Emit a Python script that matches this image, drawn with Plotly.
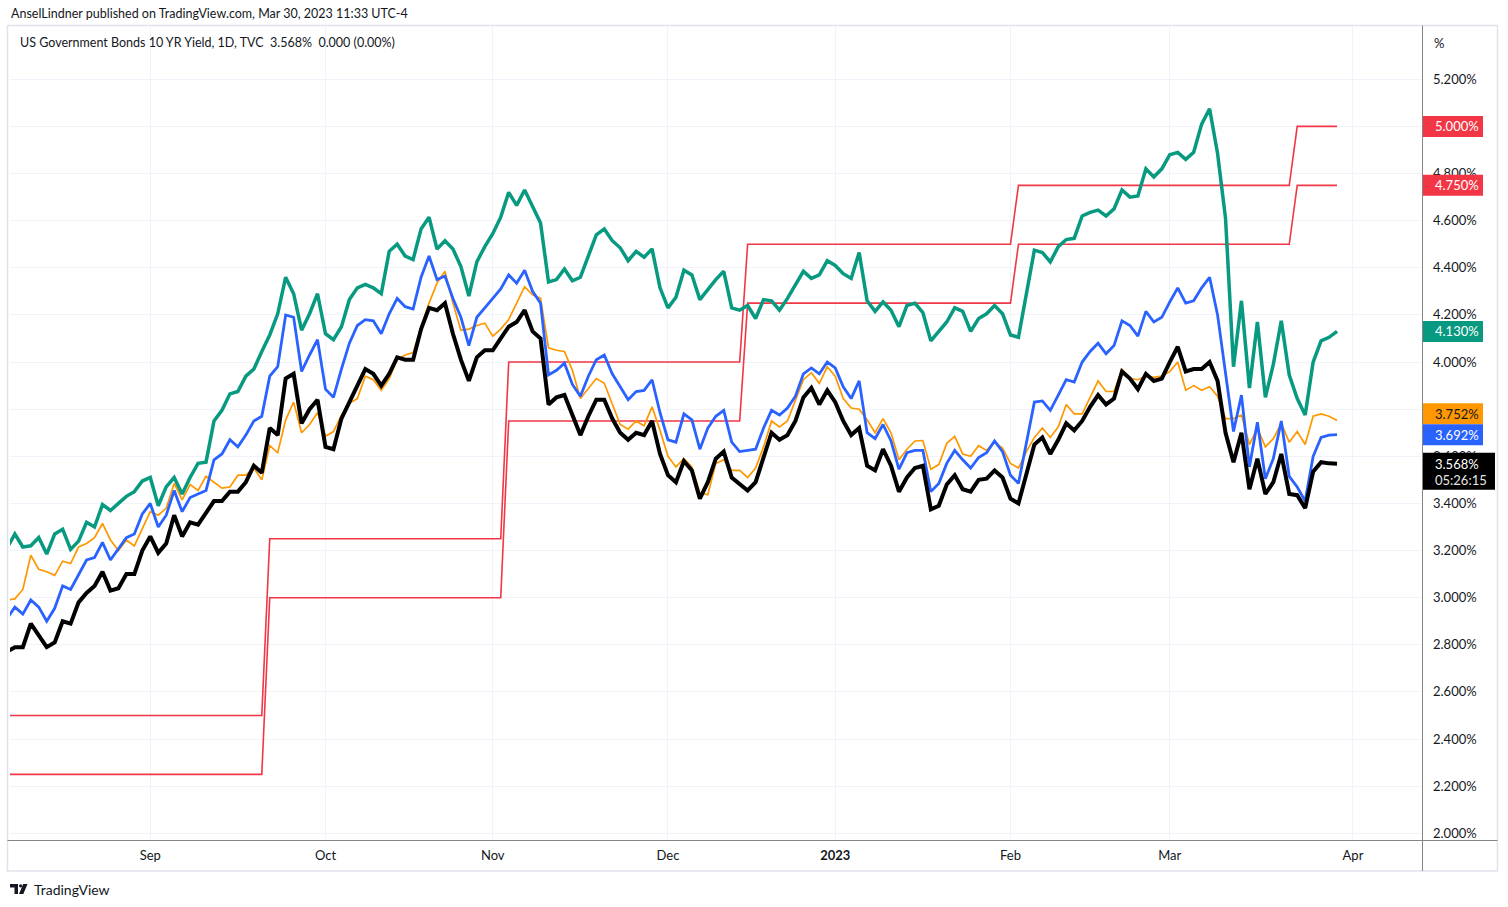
import pandas as pd
import plotly.graph_objects as go

# ---------------- data ----------------
# trading days shown (weekdays, Dec 26 2022 has no bar)
days = pd.bdate_range("2022-08-08", "2023-03-30")
days = days[days != pd.Timestamp("2022-12-26")]

# US 10Y (black)
us10y_aug = [2.77, 2.79, 2.79, 2.89, 2.84, 2.79, 2.81, 2.90, 2.89, 2.98, 3.02, 3.05, 3.11, 3.03, 3.04, 3.10, 3.10, 3.20]
us10y_sep = [3.26, 3.19, 3.23, 3.35, 3.26, 3.32, 3.31, 3.36, 3.41, 3.41, 3.45, 3.45, 3.49, 3.56, 3.53, 3.72, 3.69, 3.93, 3.95, 3.74, 3.80, 3.84]
us10y_oct = [3.64, 3.63, 3.76, 3.83, 3.90, 3.97, 3.95, 3.90, 3.95, 4.02, 4.01, 4.01, 4.14, 4.23, 4.22, 4.25, 4.12, 4.01, 3.92, 4.02, 4.05]
us10y_nov = [4.05, 4.10, 4.15, 4.17, 4.22, 4.13, 4.10, 3.82, 3.85, 3.86, 3.78, 3.69, 3.77, 3.84, 3.84, 3.76, 3.70, 3.67, 3.70, 3.69, 3.75, 3.61]
us10y_dec = [3.52, 3.49, 3.58, 3.54, 3.42, 3.49, 3.59, 3.62, 3.51, 3.48, 3.455, 3.49, 3.60, 3.70, 3.67, 3.69, 3.75, 3.85, 3.89, 3.82, 3.88]
us10y_jan = [3.83, 3.75, 3.69, 3.72, 3.56, 3.54, 3.63, 3.56, 3.45, 3.51, 3.55, 3.56, 3.375, 3.39, 3.48, 3.52, 3.46, 3.45, 3.50, 3.505, 3.54, 3.51]
us10y_feb = [3.42, 3.40, 3.53, 3.65, 3.68, 3.61, 3.67, 3.74, 3.71, 3.75, 3.81, 3.86, 3.82, 3.845, 3.96, 3.93, 3.885, 3.95, 3.92, 3.93]
us10y_mar = [4.00, 4.065, 3.96, 3.97, 3.97, 4.00, 3.92, 3.70, 3.575, 3.70, 3.46, 3.59, 3.44, 3.49, 3.61, 3.44, 3.435, 3.38, 3.535, 3.575, 3.57, 3.568]

# US 2Y (green)
us2y_aug = [3.21, 3.27, 3.215, 3.22, 3.255, 3.185, 3.27, 3.29, 3.205, 3.24, 3.32, 3.30, 3.395, 3.37, 3.40, 3.43, 3.45, 3.495]
us2y_sep = [3.51, 3.39, 3.47, 3.51, 3.44, 3.51, 3.57, 3.575, 3.75, 3.795, 3.865, 3.875, 3.94, 3.97, 4.045, 4.115, 4.205, 4.36, 4.29, 4.135, 4.205, 4.29]
us2y_oct = [4.12, 4.095, 4.15, 4.265, 4.315, 4.33, 4.315, 4.29, 4.47, 4.50, 4.45, 4.435, 4.565, 4.615, 4.48, 4.515, 4.48, 4.405, 4.28, 4.425, 4.49]
us2y_nov = [4.545, 4.615, 4.72, 4.665, 4.73, 4.66, 4.59, 4.34, 4.35, 4.395, 4.345, 4.36, 4.455, 4.54, 4.565, 4.515, 4.485, 4.43, 4.47, 4.445, 4.48, 4.315]
us2y_dec = [4.23, 4.275, 4.39, 4.37, 4.265, 4.31, 4.35, 4.385, 4.23, 4.22, 4.24, 4.185, 4.265, 4.26, 4.22, 4.27, 4.325, 4.385, 4.355, 4.37, 4.43]
us2y_jan = [4.41, 4.375, 4.355, 4.465, 4.26, 4.215, 4.255, 4.22, 4.15, 4.24, 4.25, 4.21, 4.09, 4.13, 4.17, 4.23, 4.215, 4.13, 4.185, 4.205, 4.24, 4.205]
us2y_feb = [4.115, 4.105, 4.29, 4.475, 4.465, 4.425, 4.49, 4.52, 4.525, 4.62, 4.635, 4.645, 4.62, 4.65, 4.73, 4.70, 4.705, 4.82, 4.785, 4.82]
us2y_mar = [4.88, 4.89, 4.86, 4.89, 5.01, 5.075, 4.885, 4.61, 3.98, 4.26, 3.89, 4.17, 3.85, 3.99, 4.175, 3.945, 3.845, 3.775, 4.00, 4.09, 4.105, 4.13]

# US 5Y (blue)
us5y_aug = [2.91, 2.96, 2.93, 2.99, 2.96, 2.90, 2.955, 3.05, 3.035, 3.10, 3.16, 3.17, 3.235, 3.16, 3.21, 3.255, 3.27, 3.355]
us5y_sep = [3.40, 3.30, 3.35, 3.455, 3.365, 3.425, 3.44, 3.455, 3.585, 3.61, 3.67, 3.64, 3.69, 3.75, 3.77, 3.94, 3.98, 4.20, 4.19, 3.96, 4.03, 4.095]
us5y_oct = [3.885, 3.85, 3.97, 4.08, 4.155, 4.18, 4.175, 4.12, 4.205, 4.27, 4.235, 4.225, 4.36, 4.45, 4.35, 4.365, 4.27, 4.19, 4.07, 4.19, 4.23]
us5y_nov = [4.27, 4.31, 4.37, 4.335, 4.39, 4.30, 4.25, 3.945, 3.965, 3.995, 3.905, 3.855, 3.94, 4.01, 4.03, 3.95, 3.895, 3.84, 3.875, 3.88, 3.925, 3.785]
us5y_dec = [3.67, 3.66, 3.78, 3.755, 3.63, 3.72, 3.77, 3.795, 3.66, 3.62, 3.625, 3.63, 3.72, 3.795, 3.775, 3.805, 3.855, 3.95, 3.975, 3.95, 4.00]
us5y_jan = [3.975, 3.895, 3.845, 3.92, 3.70, 3.675, 3.735, 3.665, 3.545, 3.615, 3.625, 3.625, 3.45, 3.485, 3.57, 3.625, 3.585, 3.55, 3.595, 3.615, 3.665, 3.62]
us5y_feb = [3.52, 3.485, 3.66, 3.83, 3.835, 3.795, 3.86, 3.925, 3.915, 4.00, 4.045, 4.08, 4.035, 4.07, 4.175, 4.155, 4.11, 4.215, 4.17, 4.19]
us5y_mar = [4.255, 4.315, 4.25, 4.26, 4.315, 4.36, 4.20, 3.96, 3.705, 3.86, 3.555, 3.745, 3.505, 3.59, 3.75, 3.515, 3.47, 3.41, 3.60, 3.68, 3.69, 3.692]

# US 30Y (orange)
us30y_aug = [2.99, 2.995, 3.035, 3.18, 3.12, 3.11, 3.095, 3.155, 3.145, 3.215, 3.23, 3.255, 3.315, 3.245, 3.20, 3.245, 3.22, 3.295]
us30y_sep = [3.365, 3.35, 3.38, 3.485, 3.415, 3.48, 3.455, 3.515, 3.49, 3.465, 3.47, 3.52, 3.52, 3.55, 3.50, 3.645, 3.615, 3.755, 3.83, 3.70, 3.735, 3.785]
us30y_oct = [3.685, 3.705, 3.775, 3.825, 3.845, 3.94, 3.925, 3.88, 3.93, 4.01, 4.03, 4.04, 4.15, 4.25, 4.335, 4.385, 4.25, 4.135, 4.14, 4.155, 4.165]
us30y_nov = [4.11, 4.14, 4.18, 4.25, 4.32, 4.285, 4.27, 4.06, 4.05, 4.045, 3.965, 3.845, 3.89, 3.93, 3.91, 3.825, 3.735, 3.715, 3.75, 3.73, 3.81, 3.71]
us30y_dec = [3.60, 3.555, 3.59, 3.555, 3.445, 3.437, 3.57, 3.585, 3.54, 3.54, 3.51, 3.55, 3.64, 3.75, 3.725, 3.75, 3.84, 3.925, 3.955, 3.91, 3.98]
us30y_jan = [3.94, 3.845, 3.805, 3.80, 3.755, 3.70, 3.76, 3.70, 3.585, 3.63, 3.665, 3.667, 3.545, 3.565, 3.655, 3.685, 3.61, 3.60, 3.645, 3.625, 3.66, 3.635]
us30y_feb = [3.57, 3.55, 3.62, 3.68, 3.72, 3.68, 3.725, 3.82, 3.78, 3.78, 3.85, 3.92, 3.875, 3.875, 3.97, 3.93, 3.925, 3.94, 3.935, 3.94]
us30y_mar = [3.96, 4.00, 3.88, 3.90, 3.88, 3.895, 3.855, 3.76, 3.76, 3.775, 3.65, 3.72, 3.64, 3.675, 3.74, 3.66, 3.705, 3.65, 3.77, 3.78, 3.77, 3.752]

# Fed funds target range (red), corner points of the steps
fed_dates = ["2022-08-08", "2022-09-21", "2022-09-22", "2022-11-02", "2022-11-03", "2022-12-14",
             "2022-12-15", "2023-02-01", "2023-02-02", "2023-03-22", "2023-03-23", "2023-03-30"]
fed_lower = [2.25, 2.25, 3.00, 3.00, 3.75, 3.75, 4.25, 4.25, 4.50, 4.50, 4.75, 4.75]
fed_upper = [2.50, 2.50, 3.25, 3.25, 4.00, 4.00, 4.50, 4.50, 4.75, 4.75, 5.00, 5.00]

month_ticks = ["2022-09-01", "2022-10-03", "2022-11-01", "2022-12-01", "2023-01-02", "2023-02-01", "2023-03-01", "2023-04-03"]
month_labels = ["Sep", "Oct", "Nov", "Dec", "<b>2023</b>", "Feb", "Mar", "Apr"]
price_ticks = [2.0, 2.2, 2.4, 2.6, 2.8, 3.0, 3.2, 3.4, 3.6, 3.8, 4.0, 4.2, 4.4, 4.6, 4.8, 5.0, 5.2]
price_labels = ["2.000%", "2.200%", "2.400%", "2.600%", "2.800%", "3.000%", "3.200%", "3.400%", "3.600%",
                "", "4.000%", "4.200%", "4.400%", "4.600%", "4.800%", "", "5.200%"]  # 3.8 / 5.0 sit under labels

us10y = us10y_aug + us10y_sep + us10y_oct + us10y_nov + us10y_dec + us10y_jan + us10y_feb + us10y_mar
us2y = us2y_aug + us2y_sep + us2y_oct + us2y_nov + us2y_dec + us2y_jan + us2y_feb + us2y_mar
us5y = us5y_aug + us5y_sep + us5y_oct + us5y_nov + us5y_dec + us5y_jan + us5y_feb + us5y_mar
us30y = us30y_aug + us30y_sep + us30y_oct + us30y_nov + us30y_dec + us30y_jan + us30y_feb + us30y_mar
n = len(days)
for s in (us10y, us2y, us5y, us30y):
    assert len(s) == n, (len(s), n)

# ---------------- styling ----------------
FONT = "Lato, 'Liberation Sans', Arial, sans-serif"
TXT = "#131722"
GRID = "#f0f3fa"
AXIS = "#858585"
RED, GREEN, BLUE, ORANGE, BLACK = "#f23645", "#089981", "#2962ff", "#ff9800", "#000000"

W, H = 1508, 907
L, R, T, B = 10, 86, 26, 67
PW, PH = W - L - R, H - T - B
Y0, Y1 = 1.9716, 5.4262


def px(x):  # pixel x -> paper
    return (x - L) / PW


def py(y):  # pixel y -> paper
    return (H - B - y) / PH


def vpx(v):  # value -> pixel y
    return (H - B) - (v - Y0) / (Y1 - Y0) * PH


fig = go.Figure()
common = dict(mode="lines", hoverinfo="skip", showlegend=False)
fig.add_trace(go.Scatter(x=fed_dates, y=fed_lower, line=dict(color=RED, width=1.6), **common))
fig.add_trace(go.Scatter(x=fed_dates, y=fed_upper, line=dict(color=RED, width=1.6), **common))
fig.add_trace(go.Scatter(x=days, y=us30y, line=dict(color=ORANGE, width=1.7), **common))
fig.add_trace(go.Scatter(x=days, y=us5y, line=dict(color=BLUE, width=2.8), **common))
fig.add_trace(go.Scatter(x=days, y=us2y, line=dict(color=GREEN, width=3.5), **common))
fig.add_trace(go.Scatter(x=days, y=us10y, line=dict(color=BLACK, width=4), **common))

shapes = []
annotations = []

# outer frame, axis separators
shapes.append(dict(type="rect", xref="paper", yref="paper", x0=px(7.5), x1=px(1497.5), y0=py(871), y1=py(25.5),
                   line=dict(color="#e0e3eb", width=1.5), fillcolor="rgba(0,0,0,0)", layer="below"))
shapes.append(dict(type="line", xref="paper", yref="paper", x0=px(7.5), x1=px(1497.5), y0=py(840.5), y1=py(840.5),
                   line=dict(color=AXIS, width=1), layer="above"))
shapes.append(dict(type="line", xref="paper", yref="paper", x0=px(1422.5), x1=px(1422.5), y0=py(871), y1=py(25.5),
                   line=dict(color=AXIS, width=1), layer="above"))

# price labels on the right scale
BOX_L = 1423
BOX_H = 21


def price_box(center_px, color, text, text_color, width=60):
    shapes.append(dict(type="rect", xref="paper", yref="paper", x0=px(BOX_L), x1=px(BOX_L + width),
                       y0=py(center_px + BOX_H / 2), y1=py(center_px - BOX_H / 2),
                       line=dict(width=0), fillcolor=color, layer="above"))
    annotations.append(dict(xref="paper", yref="paper", x=px(BOX_L + 10), y=py(center_px), xanchor="left",
                            yanchor="middle", text=text, showarrow=False,
                            font=dict(family=FONT, size=13, color=text_color)))


blue_c = vpx(us5y[-1])
orange_c = min(vpx(us30y[-1]), blue_c - BOX_H)
price_box(vpx(fed_upper[-1]), RED, f"{fed_upper[-1]:.3f}%", "white")
price_box(vpx(fed_lower[-1]), RED, f"{fed_lower[-1]:.3f}%", "white")
price_box(vpx(us2y[-1]), GREEN, f"{us2y[-1]:.3f}%", "white")
price_box(orange_c, ORANGE, f"{us30y[-1]:.3f}%", TXT)
price_box(blue_c, BLUE, f"{us5y[-1]:.3f}%", "white")

# black last price box with countdown
c10 = vpx(us10y[-1])
shapes.append(dict(type="rect", xref="paper", yref="paper", x0=px(BOX_L), x1=px(1495),
                   y0=py(c10 + 26), y1=py(c10 - 11), line=dict(width=0), fillcolor=BLACK, layer="above"))
annotations.append(dict(xref="paper", yref="paper", x=px(BOX_L + 10), y=py(c10), xanchor="left", yanchor="middle",
                        text=f"{us10y[-1]:.3f}%", showarrow=False, font=dict(family=FONT, size=13, color="white")))
annotations.append(dict(xref="paper", yref="paper", x=px(BOX_L + 10), y=py(c10 + 16), xanchor="left",
                        yanchor="middle", text="05:26:15", showarrow=False,
                        font=dict(family=FONT, size=13, color="#e6e6e6")))

# texts
annotations.append(dict(xref="paper", yref="paper", x=px(9), y=py(14), xanchor="left", yanchor="middle",
                        text="AnselLindner published on TradingView.com, Mar 30, 2023 11:33 UTC-4", showarrow=False,
                        font=dict(family=FONT, size=12.5, color=TXT)))
annotations.append(dict(xref="paper", yref="paper", x=px(18), y=py(42), xanchor="left", yanchor="middle",
                        text="US Government Bonds 10 YR Yield, 1D, TVC\u00a0\u00a03.568%\u00a0\u00a00.000 (0.00%)",
                        showarrow=False, font=dict(family=FONT, size=12.5, color=TXT)))
annotations.append(dict(xref="paper", yref="paper", x=px(1432), y=py(43), xanchor="left", yanchor="middle",
                        text="%", showarrow=False, font=dict(family=FONT, size=13, color=TXT)))
annotations.append(dict(xref="paper", yref="paper", x=px(32), y=py(889), xanchor="left", yanchor="middle",
                        text="TradingView", showarrow=False, font=dict(family=FONT, size=14, color=TXT)))

# TradingView logo
shapes.append(dict(type="path", xref="paper", yref="paper",
                   path=f"M {px(10)},{py(884)} L {px(18)},{py(884)} L {px(18)},{py(894)} L {px(14.5)},{py(894)} "
                        f"L {px(14.5)},{py(887.5)} L {px(10)},{py(887.5)} Z",
                   line=dict(width=0), fillcolor=TXT, layer="above"))
shapes.append(dict(type="circle", xref="paper", yref="paper", x0=px(19), x1=px(22.2), y0=py(887.4), y1=py(884.2),
                   line=dict(width=0), fillcolor=TXT, layer="above"))
shapes.append(dict(type="path", xref="paper", yref="paper",
                   path=f"M {px(23.2)},{py(884)} L {px(27.5)},{py(884)} L {px(23.3)},{py(894)} L {px(19)},{py(894)} Z",
                   line=dict(width=0), fillcolor=TXT, layer="above"))

fig.update_layout(
    width=W, height=H,
    margin=dict(l=L, r=R, t=T, b=B, pad=0),
    paper_bgcolor="white", plot_bgcolor="white",
    font=dict(family=FONT, size=13, color=TXT),
    showlegend=False,
    shapes=shapes,
    annotations=annotations,
    xaxis=dict(
        type="date",
        range=["2022-08-08 09:20", "2023-04-13 16:00"],
        rangebreaks=[dict(bounds=["sat", "mon"]), dict(values=["2022-12-26"])],
        tickmode="array", tickvals=month_ticks, ticktext=month_labels,
        showgrid=True, gridcolor=GRID, gridwidth=1,
        showline=False, zeroline=False, ticks="", ticklabelstandoff=6,
        tickfont=dict(family=FONT, size=13, color=TXT),
        fixedrange=True,
    ),
    yaxis=dict(
        side="right",
        range=[Y0, Y1],
        tickmode="array", tickvals=price_ticks, ticktext=price_labels,
        showgrid=True, gridcolor=GRID, gridwidth=1,
        showline=False, zeroline=False, ticks="", ticklabelstandoff=10,
        tickfont=dict(family=FONT, size=13, color=TXT),
        fixedrange=True,
    ),
)

fig.write_html("out.html", config=dict(displayModeBar=False),
               post_script="document.body.style.margin='0';document.body.style.overflow='hidden';")
